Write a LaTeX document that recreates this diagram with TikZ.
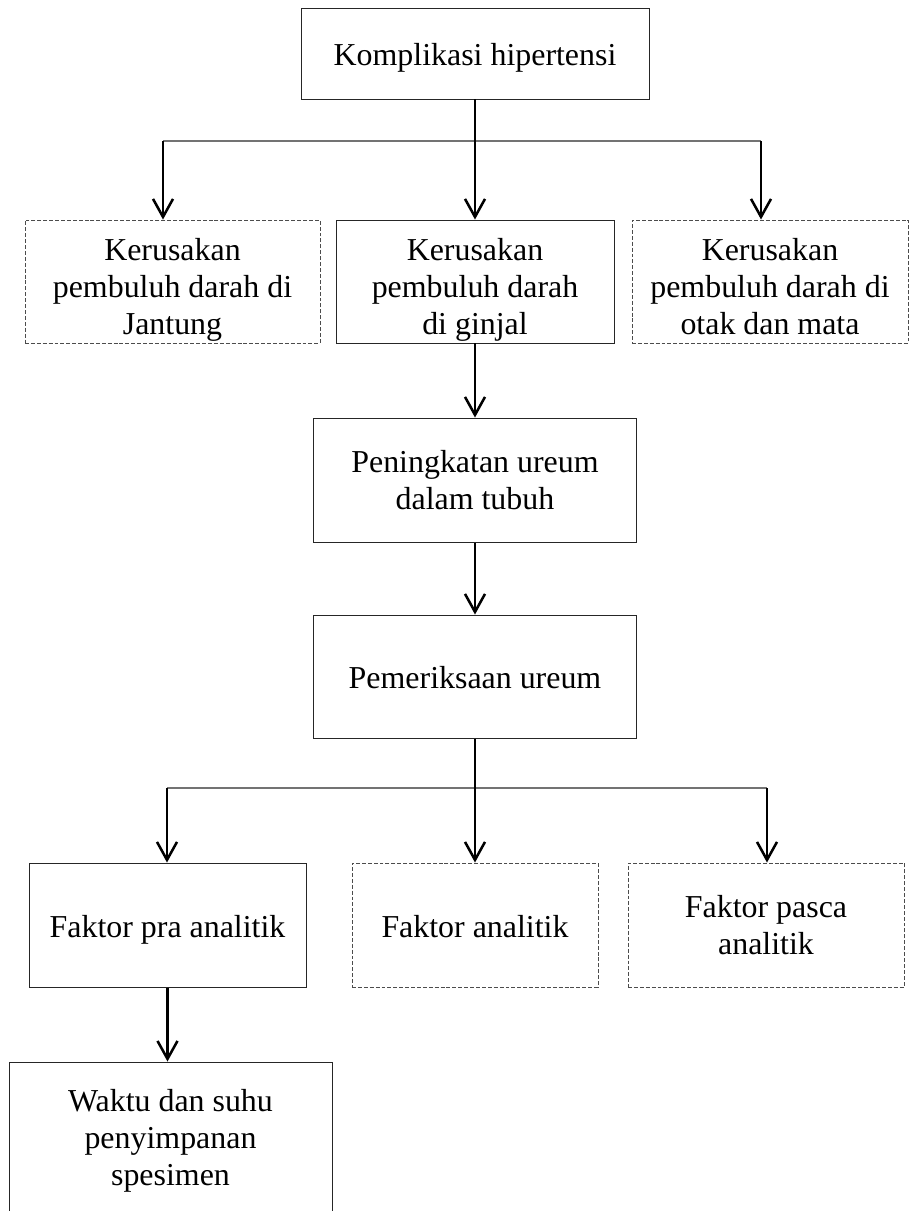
\documentclass[tikz,border=0pt]{standalone}
\usepackage{fontspec}
\setmainfont{Liberation Serif}
\usepackage{tikz}
\usetikzlibrary{calc}
\usetikzlibrary{arrows.meta}
\tikzstyle{solidbox} = [rectangle, 
draw=black!85, 
line width=0.7pt, 
align=center, 
font=\fontsize{22.7}{26.3}\selectfont]
\tikzstyle{dashbox} = [rectangle, 
draw=black!70, 
line width=0.7pt, 
dash pattern=on 2.8pt off 1.4pt, 
align=center, 
font=\fontsize{22.7}{26.3}\selectfont]
\tikzstyle{oneline} = [text height=0.8cm, text depth=0.2cm]
\tikzstyle{toprow} = [inner sep=0pt]
\tikzstyle{arrow} = [line width=1.8pt, -{Straight Barb[length=4.5mm, width=5mm]}]
\tikzstyle{bar} = [line width=0.8pt, draw=black!55]

\begin{document}
\begin{tikzpicture}

    \useasboundingbox (0,0) rectangle (22.75,-30.275);
    \clip (0,0) rectangle (22.75,-30.275);

    % the flowchart elements
    \node (Komplikasi) [solidbox, oneline, minimum width=8.7cm, minimum height=2.275cm] at (11.875,-1.3375) {Komplikasi hipertensi};

    \node (KerusakanJantung) [dashbox, toprow, minimum width=7.375cm, minimum height=3.075cm] at ($(Komplikasi) + (-7.5625,-5.7)$) {\rule{0pt}{1cm}Kerusakan\\pembuluh darah di\\Jantung\rule[-0.2cm]{0pt}{0.2cm}};
    \node (KerusakanGinjal) [solidbox, toprow, minimum width=6.95cm, minimum height=3.075cm] at ($(Komplikasi) + (0,-5.7)$) {\rule{0pt}{1cm}Kerusakan\\pembuluh darah\\di ginjal\rule[-0.2cm]{0pt}{0.2cm}};
    \node (KerusakanOtak) [dashbox, toprow, minimum width=6.9cm, minimum height=3.075cm] at ($(Komplikasi) + (7.375,-5.7)$) {\rule{0pt}{1cm}Kerusakan\\pembuluh darah di\\otak dan mata\rule[-0.2cm]{0pt}{0.2cm}};

    \node (Peningkatan) [solidbox, minimum width=8.075cm, minimum height=3.1cm] at ($(KerusakanGinjal) + (0,-4.9625)$) {Peningkatan ureum\\dalam tubuh};
    \node (Pemeriksaan) [solidbox, oneline, minimum width=8.075cm, minimum height=3.075cm] at ($(Peningkatan) + (0,-4.9125)$) {Pemeriksaan ureum};

    \node (PraAnalitik) [solidbox, oneline, minimum width=6.925cm, minimum height=3.1cm] at ($(Pemeriksaan) + (-7.6875,-6.2125)$) {Faktor pra analitik};
    \node (Analitik) [dashbox, oneline, minimum width=6.15cm, minimum height=3.1cm] at ($(Pemeriksaan) + (0,-6.2125)$) {Faktor analitik};
    \node (PascaAnalitik) [dashbox, minimum width=6.9cm, minimum height=3.1cm] at ($(Pemeriksaan) + (7.275,-6.2125)$) {Faktor pasca\\analitik};

    \node (Waktu) [solidbox, minimum width=8.075cm, minimum height=3.95cm] at ($(PraAnalitik) + (0.075,-5.4)$) {Waktu dan suhu\\penyimpanan\\spesimen};

    % the branch points
    \coordinate (TopL) at ($(Komplikasi) + (-7.8,-2.1875)$);
    \coordinate (TopR) at ($(Komplikasi) + (7.15,-2.1875)$);
    \coordinate (LowL) at ($(Pemeriksaan) + (-7.7,-2.7875)$);
    \coordinate (LowR) at ($(Pemeriksaan) + (7.3,-2.7875)$);

    % the connectors
    \draw [bar] (TopL) -- (TopR);
    \draw [arrow] (TopL) -- (TopL |- KerusakanJantung.north);
    \draw [arrow] (Komplikasi) -- (KerusakanGinjal);
    \draw [arrow] (TopR) -- (TopR |- KerusakanOtak.north);

    \draw [arrow] (KerusakanGinjal) -- (Peningkatan);
    \draw [arrow] (Peningkatan) -- (Pemeriksaan);

    \draw [bar] (LowL) -- (LowR);
    \draw [arrow] (LowL) -- (LowL |- PraAnalitik.north);
    \draw [arrow] (Pemeriksaan) -- (Analitik);
    \draw [arrow] (LowR) -- (LowR |- PascaAnalitik.north);

    \draw [arrow] (PraAnalitik.south) -- (PraAnalitik.south |- Waktu.north);

\end{tikzpicture}
\end{document}
